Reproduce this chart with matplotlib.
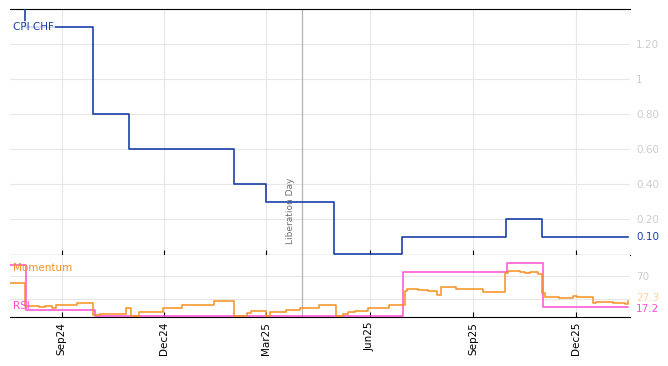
import matplotlib.pyplot as plt
import matplotlib.dates as mdates
import pandas as pd

# step series, value holds from each date until the next one
cpi_dates = ['2024-07-17', '2024-07-30', '2024-09-29', '2024-10-31', '2025-02-01',
             '2025-03-01', '2025-04-30', '2025-06-30', '2025-09-30', '2025-11-01',
             '2026-01-16']
cpi_values = [1.5, 1.3, 0.8, 0.6, 0.4, 0.3, 0.0, 0.1, 0.2, 0.1, 0.1]

mom_dates = ['2024-07-17', '2024-07-30', '2024-08-06', '2024-08-12', '2024-08-17',
             '2024-08-23', '2024-08-27', '2024-09-14', '2024-09-29', '2024-10-05',
             '2024-10-28', '2024-11-01', '2024-11-08', '2024-11-30', '2024-12-17',
             '2025-01-14', '2025-02-01', '2025-02-12', '2025-02-16', '2025-03-01',
             '2025-03-05', '2025-03-19', '2025-03-31', '2025-04-17', '2025-05-02',
             '2025-05-08', '2025-05-13', '2025-05-19', '2025-05-31', '2025-06-18',
             '2025-07-02', '2025-07-04', '2025-07-14', '2025-07-23', '2025-07-31',
             '2025-08-03', '2025-08-17', '2025-09-10', '2025-09-29', '2025-10-02',
             '2025-10-12', '2025-10-17', '2025-10-21', '2025-10-28', '2025-11-01',
             '2025-11-04', '2025-11-16', '2025-11-28', '2025-12-02', '2025-12-16',
             '2025-12-19', '2026-01-03', '2026-01-14', '2026-01-16']
mom_values = [58, 19, 19, 17, 19,
              16, 20, 23, 3, 5,
              15, 2, 9, 16, 20,
              27, 2, 6, 10, 2,
              9, 12, 16, 20, 2,
              5, 8, 11, 15, 20,
              44, 47, 46, 44, 38,
              51, 48, 42, 74, 78,
              77, 74, 76, 72, 40,
              34, 33, 36, 34, 23,
              26, 23, 21.5, 27.3]

rsi_dates = ['2024-07-17', '2024-07-31', '2024-09-30', '2025-07-01', '2025-10-01',
             '2025-11-02', '2026-01-16']
rsi_values = [88, 12, 2, 76, 91, 17.2, 17.2]

tick_dates = ['2024-09-01', '2024-12-01', '2025-03-01', '2025-06-01', '2025-09-01', '2025-12-01']
cpi_ticks = [0.2, 0.4, 0.6, 0.8, 1.0, 1.2]
cpi_ticklabels = ['0.20', '0.40', '0.60', '0.80', '1', '1.20']

blue = '#1a3faa'
orange = '#f7901e'
pink = '#ff4dd2'
grid = '#e6e6e6'
libday = pd.Timestamp('2025-04-02')

fig = plt.figure(figsize=(6.68, 3.66), dpi=100)
W, H = 668, 366
ax = fig.add_axes([10 / W, 1 - 255 / H, 620 / W, 246 / H])
ax2 = fig.add_axes([10 / W, 1 - 317 / H, 620 / W, 62 / H], sharex=ax)

ax.plot(pd.to_datetime(cpi_dates), cpi_values, drawstyle='steps-post', color=blue, lw=1.2, zorder=3)
ax2.plot(pd.to_datetime(mom_dates), mom_values, drawstyle='steps-post', color=orange, lw=1.1, zorder=3)
ax2.plot(pd.to_datetime(rsi_dates), rsi_values, drawstyle='steps-post', color=pink, lw=1.1, zorder=2)

ax.set_xlim(pd.Timestamp('2024-07-17'), pd.Timestamp('2026-01-18'))
ax.set_ylim(-0.005, 1.4)
ax2.set_ylim(0, 105)

for a in (ax, ax2):
    for s in ('left', 'right'):
        a.spines[s].set_visible(False)
    a.set_xticks(pd.to_datetime(tick_dates))
    a.xaxis.set_major_formatter(mdates.DateFormatter('%b%y'))
    a.grid(True, color=grid, lw=0.8)
    a.set_axisbelow(True)
    a.yaxis.tick_right()
    a.tick_params(axis='y', length=0, pad=4.5, labelcolor='#cccccc', labelsize=7.5)
    a.tick_params(axis='x', direction='in', length=3.5, color='black')
    a.axvline(libday, color='#b3b3b3', lw=0.9, zorder=1)

ax.tick_params(axis='x', labelbottom=False)
ax2.tick_params(axis='x', labelrotation=90, labelsize=7.5)
ax2.spines['top'].set_visible(False)

ax.set_yticks(cpi_ticks)
ax.set_yticklabels(cpi_ticklabels)
ax2.set_yticks([30, 70])
ax2.set_yticklabels(['', '70'])

# last values on the right
ax.annotate('0.10', xy=(1, cpi_values[-1]), xycoords=('axes fraction', 'data'),
            xytext=(4.5, 0), textcoords='offset points', va='center', fontsize=7.5, color=blue)
ax2.annotate('27.3', xy=(1, mom_values[-1]), xycoords=('axes fraction', 'data'),
             xytext=(4.5, 2), textcoords='offset points', va='center', fontsize=7.5, color='#ffd0a0')
ax2.annotate('17.2', xy=(1, rsi_values[-1]), xycoords=('axes fraction', 'data'),
             xytext=(4.5, -1.5), textcoords='offset points', va='center', fontsize=7.5, color=pink)

ax.annotate('Liberation Day', xy=(libday, 0.06), xytext=(-5, 0), textcoords='offset points',
            rotation=90, ha='right', va='bottom', fontsize=6.5, color='#707070')

box = dict(facecolor='white', edgecolor='none', alpha=0.8, pad=1)
ax.text(0.005, 1.297, 'CPI CHF', transform=ax.get_yaxis_transform(), va='center',
        fontsize=7.5, color=blue, bbox=box, zorder=4)
ax2.text(0.005, 83, 'Momentum', transform=ax2.get_yaxis_transform(), va='center',
         fontsize=7.5, color=orange, zorder=4)
ax2.text(0.005, 18, 'RSI', transform=ax2.get_yaxis_transform(), va='center',
         fontsize=7.5, color=pink, zorder=4)

fig.savefig('out.png', dpi=100)
